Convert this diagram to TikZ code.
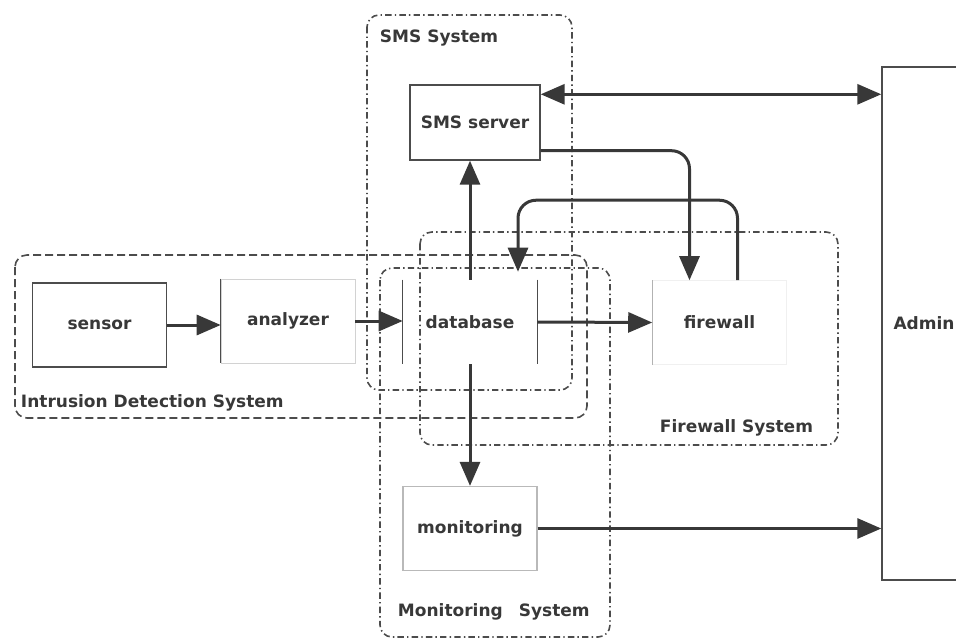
\documentclass[tikz,border=0pt]{standalone}
\usepackage{fontspec}
\setmainfont{DejaVu Sans}
\usepackage{tikz}
\usetikzlibrary{
    calc,
    arrows.meta
}
\definecolor{ink}{gray}{0.22}
\definecolor{frame}{gray}{0.3}
\tikzset{
    every node/.style={font=\fontsize{12.1}{14}\selectfont\bfseries, text=ink},
    unit/.style={rectangle, inner sep=0pt, minimum width=33.5mm, minimum height=21mm},
    flow/.style={draw=ink, line width=0.75mm, >={Triangle[length=6mm,width=5mm]}, ->},
    group/.style={draw=frame, line width=0.4mm, rounded corners=3mm,
        dash pattern=on 1.6mm off 0.8mm on 0.35mm off 0.8mm},
    idsgroup/.style={group, dash pattern=on 2mm off 1mm}
}

\begin{document}
\begin{tikzpicture}[x=0.25mm, y=-0.25mm]
        \clip (0,0) rectangle (956,642);

        % system boundaries
        \draw[group] (367,15) rectangle (572,390);
        \draw[idsgroup] (15,255) rectangle (587,418);
        \draw[group] (420,232) rectangle (838,445);
        \draw[group] (380,268) rectangle (610,637);

        \draw (375,38) node[anchor=west](smslbl){SMS System};
        \draw (16,403) node[anchor=west](idslbl){Intrusion Detection System};
        \draw (655,428) node[anchor=west](fwlbl){Firewall System};
        \draw (393,612) node[anchor=west](monlbl){Monitoring\hspace{4mm}System};

        % components
        \draw (99.5,325) node[unit, draw=frame, line width=0.35mm](sen){sensor};
        \draw (288,321) node[unit, draw=gray!35](ana){analyzer};
        \draw (470,322) node[unit](db){database};
        \draw (719.5,322.5) node[unit, draw=gray!12](fw){firewall};
        \draw (475,122.5) node[unit, draw=frame, line width=0.35mm,
            minimum width=32.5mm, minimum height=18.75mm](sms){SMS server};
        \draw (470,528.5) node[unit, draw=gray!55, line width=0.3mm](mon){monitoring};
        \draw (924,323.5) node[unit, draw=frame, line width=0.35mm,
            minimum width=21mm, minimum height=128.25mm](adm){Admin};

        % darker box edges
        \draw[frame, line width=0.35mm] (ana.north west) -- (ana.south west);
        \draw[frame, line width=0.35mm] (db.north west) -- (db.south west)
            (db.north east) -- (db.south east);
        \draw[gray!60, line width=0.3mm] (fw.north west) -- (fw.south west);

        \draw[flow] (sen.east) -- (sen.east -| ana.west);
        \draw[flow] (ana.east) -- (ana.east -| db.west);
        \draw[flow] (db.east) -- (fw.west);
        \draw[flow] (db.north) -- (db.north |- sms.south);
        \draw[flow] (db.south) -- (db.south |- mon.north);
        \draw[flow] (mon.east) -- (mon.east -| adm.west);
        \draw[flow, <->] ($(sms.north east)+(0,10)$) coordinate(top) -- (top -| adm.west);
        \draw[flow, rounded corners=4.5mm] ($(sms.south east)+(0,-10)$) -| ($(fw.north)+(-30,0)$);
        \draw[flow, rounded corners=4.5mm] ($(fw.north)+(18,0)$) -- ++(0,-80) -| ($(db.north)+(48,-8)$);
    \end{tikzpicture}
\end{document}
